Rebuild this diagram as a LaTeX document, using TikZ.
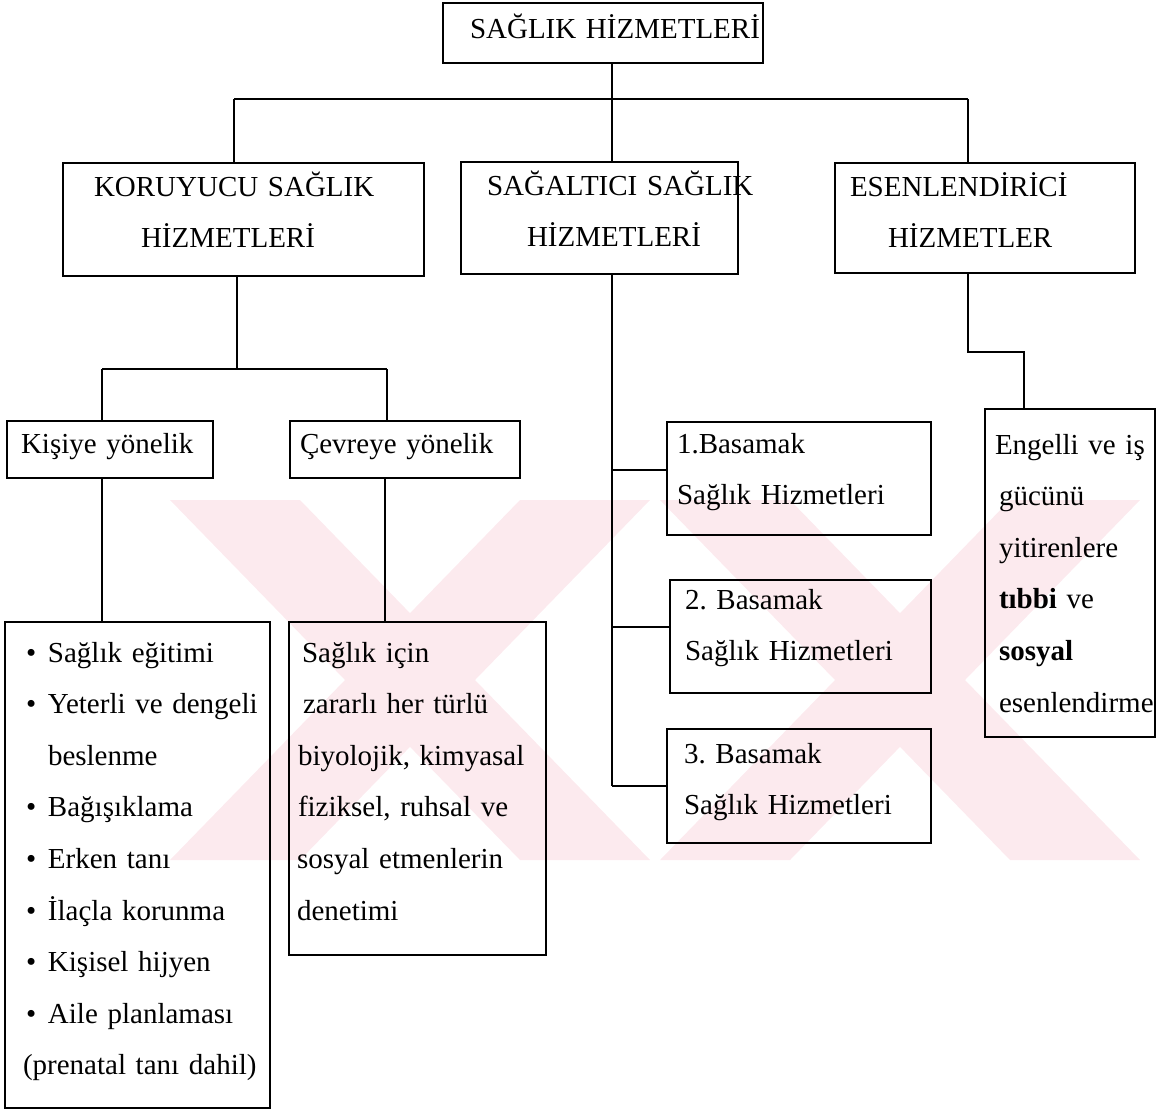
\documentclass[tikz,border=0pt]{standalone}
\usepackage{fontspec}
\setmainfont{Liberation Serif}
\frenchspacing
\definecolor{wm}{RGB}{252,234,238}
\tikzset{
  frame/.style={draw=black, line width=2.6pt, inner sep=0pt, outer sep=0pt, rectangle},
  conn/.style={draw=black, line width=2.4pt},
  txt/.style={anchor=base west, inner sep=0pt, outer sep=0pt, text width=320pt, align=left,
              font=\fontsize{29}{51.6}\selectfont\frenchspacing},
  wmark/.style={fill=wm, draw=none}
}
\begin{document}
\begin{tikzpicture}[x=1pt,y=-1pt]
\useasboundingbox (0,0) rectangle (1158,1112);
% watermark
\fill[wmark] (170,500) -- (300,500) -- (650,860) -- (520,860) -- cycle;
\fill[wmark] (520,500) -- (650,500) -- (300,860) -- (170,860) -- cycle;
\fill[wmark] (660,500) -- (790,500) -- (1140,860) -- (1010,860) -- cycle;
\fill[wmark] (1010,500) -- (1140,500) -- (790,860) -- (660,860) -- cycle;

% frames
\node[frame, minimum width=320pt, minimum height=60pt] (top) at (603,33) {};
\node[frame, minimum width=361pt, minimum height=113pt] (kor) at (243.5,219.5) {};
\node[frame, minimum width=277pt, minimum height=112pt] (sag) at (599.5,218) {};
\node[frame, minimum width=300pt, minimum height=110pt] (esen) at (985,218) {};
\node[frame, minimum width=206pt, minimum height=57pt] (kisi) at (110,449.5) {};
\node[frame, minimum width=230pt, minimum height=57pt] (cevre) at (405,449.5) {};
\node[frame, minimum width=265pt, minimum height=486pt] (liste) at (137.5,865) {};
\node[frame, minimum width=257pt, minimum height=333pt] (cevbox) at (417.5,788.5) {};
\node[frame, minimum width=264pt, minimum height=113pt] (b1) at (799,478.5) {};
\node[frame, minimum width=261pt, minimum height=113pt] (b2) at (800.5,636.5) {};
\node[frame, minimum width=264pt, minimum height=114pt] (b3) at (799,786) {};
\node[frame, minimum width=170pt, minimum height=328pt] (eng) at (1070,573) {};

% texts
\node[txt] (topt) at (470,38) {SAĞLIK HİZMETLERİ};
\node[txt] (kort) at (94,196) {KORUYUCU SAĞLIK\\\hspace*{47pt}HİZMETLERİ};
\node[txt] (sagt) at (487,195) {SAĞALTICI SAĞLIK\\\hspace*{40pt}HİZMETLERİ};
\node[txt] (esent) at (850,196) {ESENLENDİRİCİ\\\hspace*{38pt}HİZMETLER};
\node[txt] (kisit) at (21,453) {Kişiye yönelik};
\node[txt] (cevret) at (300,453) {Çevreye yönelik};
\node[txt] (listet) at (26,662) {\makebox[22pt][l]{•}Sağlık eğitimi\\
\makebox[22pt][l]{•}Yeterli ve dengeli\\
\hspace*{22pt}beslenme\\
\makebox[22pt][l]{•}Bağışıklama\\
\makebox[22pt][l]{•}Erken tanı\\
\makebox[22pt][l]{•}İlaçla korunma\\
\makebox[22pt][l]{•}Kişisel hijyen\\
\makebox[22pt][l]{•}Aile planlaması\\
\hspace*{-3pt}(prenatal tanı dahil)};
\node[txt] (cevboxt) at (297,662) {\hspace*{5pt}Sağlık için\\
\hspace*{6pt}zararlı her türlü\\
\hspace*{1pt}biyolojik, kimyasal\\
\hspace*{1pt}fiziksel, ruhsal ve\\
sosyal etmenlerin\\
denetimi};
\node[txt] (b1t) at (677,453) {1.Basamak\\Sağlık Hizmetleri};
\node[txt] (b2t) at (685,609) {2. Basamak\\Sağlık Hizmetleri};
\node[txt] (b3t) at (684,763) {3. Basamak\\Sağlık Hizmetleri};
\node[txt] (engt) at (995,454) {Engelli ve iş\\
\hspace*{4pt}gücünü\\
\hspace*{4pt}yitirenlere\\
\hspace*{4pt}\textbf{tıbbi} ve\\
\hspace*{4pt}\textbf{sosyal}\\
\hspace*{4pt}esenlendirme};

% connectors
\coordinate (busL) at (234,99);
\coordinate (busM) at (612,99);
\coordinate (busR) at (968,99);
\draw[conn] (top.south -| busM) -- (busM);
\draw[conn] (busL) -- (busR);
\draw[conn] (busL) -- (busL |- kor.north);
\draw[conn] (busM) -- (busM |- sag.north);
\draw[conn] (busR) -- (busR |- esen.north);

\coordinate (k0) at (237,369);
\coordinate (kL) at (102,369);
\coordinate (kR) at (387,369);
\draw[conn] (k0 |- kor.south) -- (k0);
\draw[conn] (kL) -- (kR);
\draw[conn] (kL) -- (kL |- kisi.north);
\draw[conn] (kR) -- (kR |- cevre.north);

\coordinate (kd) at (102,0);
\coordinate (cd) at (385,0);
\draw[conn] (kisi.south -| kd) -- (liste.north -| kd);
\draw[conn] (cevre.south -| cd) -- (cevbox.north -| cd);

\coordinate (s1) at (612,470);
\coordinate (s2) at (612,627);
\coordinate (s3) at (612,786);
\draw[conn] (sag.south -| s3) -- (s3);
\draw[conn] (s1) -- (s1 -| b1.west);
\draw[conn] (s2) -- (s2 -| b2.west);
\draw[conn] (s3) -- (s3 -| b3.west);

\coordinate (e1) at (968,352);
\coordinate (e2) at (1024,352);
\draw[conn] (esen.south -| e1) -- (e1) -- (e2) -- (e2 |- eng.north);
\end{tikzpicture}
\end{document}
